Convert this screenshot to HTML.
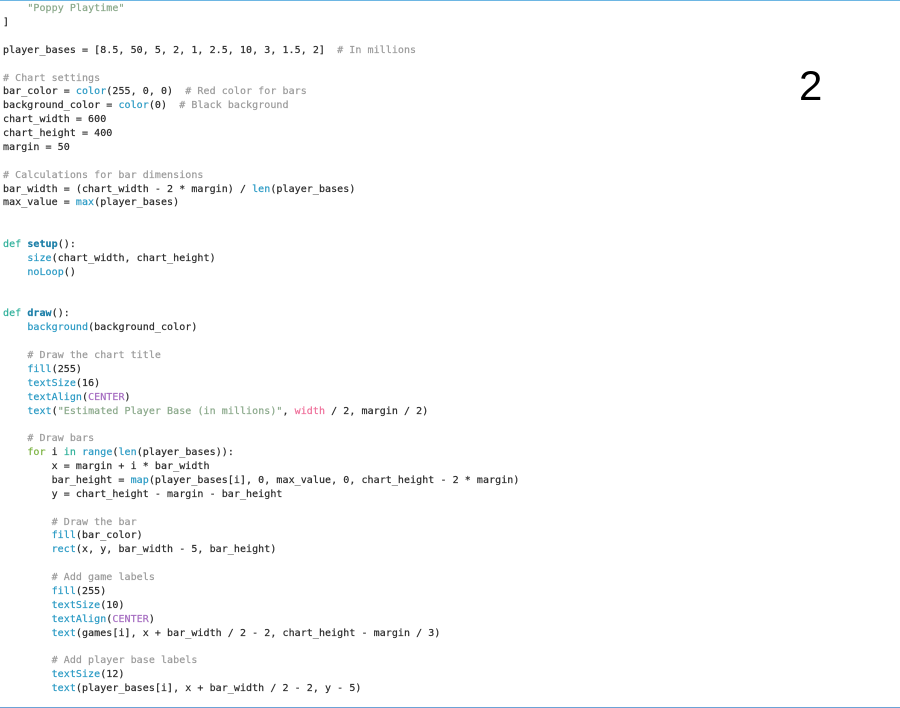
<!DOCTYPE html>
<html>
<head>
<meta charset="utf-8">
<style>
html,body{margin:0;padding:0;background:#fff;width:900px;height:708px;overflow:hidden}
#top{position:absolute;left:0;top:0;width:900px;height:1px;background:#6db6e3}
#bot{position:absolute;left:0;top:707px;width:900px;height:1px;background:#6ba3d6}
pre{position:absolute;left:3px;top:2.2px;margin:0;font-family:"DejaVu Sans Mono","Liberation Mono",monospace;font-size:10px;letter-spacing:.055px;line-height:13.88px;color:#2a2a2a;-webkit-text-stroke:.2px currentColor;filter:blur(.35px)}
.c{color:#9a9a9a}.s{color:#8aa88a}.f{color:#2a9ac4}.k{color:#2fb09a}.d{color:#1c7fa8;font-weight:bold}.g{color:#7cb342}.p{color:#a56cc1}.w{color:#ef6f9a}
#n{position:absolute;left:799px;top:62px;font-family:"Liberation Sans",sans-serif;font-size:42px;line-height:48px;color:#000}
</style>
</head>
<body>
<div id="top"></div>
<pre>    <span class="s">"Poppy Playtime"</span>
]

player_bases = [8.5, 50, 5, 2, 1, 2.5, 10, 3, 1.5, 2]  <span class="c"># In millions</span>

<span class="c"># Chart settings</span>
bar_color = <span class="f">color</span>(255, 0, 0)  <span class="c"># Red color for bars</span>
background_color = <span class="f">color</span>(0)  <span class="c"># Black background</span>
chart_width = 600
chart_height = 400
margin = 50

<span class="c"># Calculations for bar dimensions</span>
bar_width = (chart_width - 2 * margin) / <span class="f">len</span>(player_bases)
max_value = <span class="f">max</span>(player_bases)


<span class="k">def</span> <span class="d">setup</span>():
    <span class="f">size</span>(chart_width, chart_height)
    <span class="f">noLoop</span>()


<span class="k">def</span> <span class="d">draw</span>():
    <span class="f">background</span>(background_color)

    <span class="c"># Draw the chart title</span>
    <span class="f">fill</span>(255)
    <span class="f">textSize</span>(16)
    <span class="f">textAlign</span>(<span class="p">CENTER</span>)
    <span class="f">text</span>(<span class="s">"Estimated Player Base (in millions)"</span>, <span class="w">width</span> / 2, margin / 2)

    <span class="c"># Draw bars</span>
    <span class="g">for</span> i <span class="k">in</span> <span class="f">range</span>(<span class="f">len</span>(player_bases)):
        x = margin + i * bar_width
        bar_height = <span class="f">map</span>(player_bases[i], 0, max_value, 0, chart_height - 2 * margin)
        y = chart_height - margin - bar_height

        <span class="c"># Draw the bar</span>
        <span class="f">fill</span>(bar_color)
        <span class="f">rect</span>(x, y, bar_width - 5, bar_height)

        <span class="c"># Add game labels</span>
        <span class="f">fill</span>(255)
        <span class="f">textSize</span>(10)
        <span class="f">textAlign</span>(<span class="p">CENTER</span>)
        <span class="f">text</span>(games[i], x + bar_width / 2 - 2, chart_height - margin / 3)

        <span class="c"># Add player base labels</span>
        <span class="f">textSize</span>(12)
        <span class="f">text</span>(player_bases[i], x + bar_width / 2 - 2, y - 5)</pre>
<div id="n">2</div>
<div id="bot"></div>
</body>
</html>
